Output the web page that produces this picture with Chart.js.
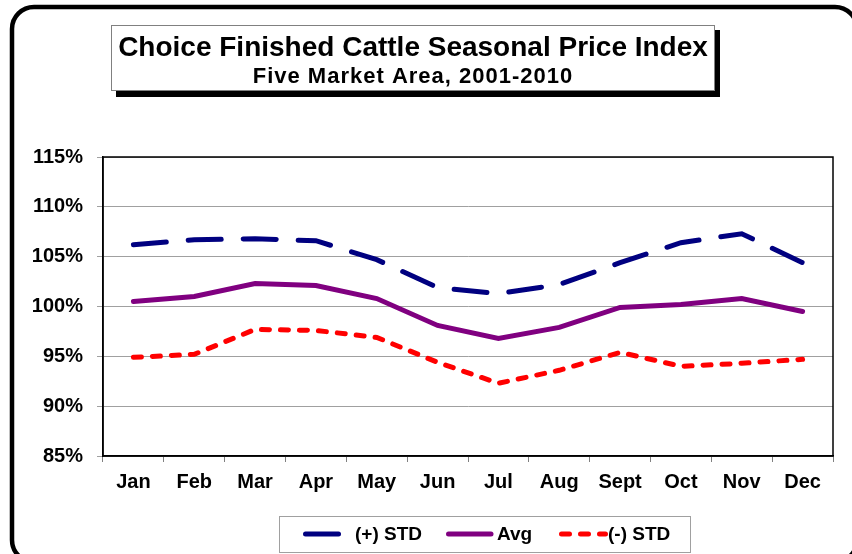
<!DOCTYPE html>
<html>
<head>
<meta charset="utf-8">
<title>Choice Finished Cattle Seasonal Price Index</title>
<script src="https://cdn.jsdelivr.net/npm/chart.js@4.4.1/dist/chart.umd.min.js"></script>
<style>
  html, body { margin: 0; padding: 0; background: #fff; }
  canvas { display: block; }
</style>
</head>
<body>
<canvas id="priceChart" width="852" height="554"></canvas>
<script>
const months = ['Jan', 'Feb', 'Mar', 'Apr', 'May', 'Jun', 'Jul', 'Aug', 'Sept', 'Oct', 'Nov', 'Dec'];
const plusStd = [106.2, 106.7, 106.8, 106.6, 104.7, 101.9, 101.3, 102.2, 104.4, 106.4, 107.3, 104.4];
const avgIndex = [100.5, 101.0, 102.3, 102.1, 100.8, 98.1, 96.8, 97.9, 99.9, 100.2, 100.8, 99.5];
const minusStd = [94.9, 95.2, 97.7, 97.6, 96.9, 94.4, 92.3, 93.6, 95.4, 94.0, 94.3, 94.7];
const yTicks = [85, 90, 95, 100, 105, 110, 115];

const FONT = '"Liberation Sans", Arial, sans-serif';

// frame, title box, plot border and legend drawn straight on the canvas
const decorations = {
  id: 'decorations',
  beforeDraw(chart) {
    const c = chart.ctx;
    c.save();
    c.fillStyle = '#fff';
    c.fillRect(0, 0, chart.width, chart.height);

    // outer rounded frame (runs off the right and bottom edges)
    c.lineWidth = 4.5;
    c.strokeStyle = '#000';
    c.beginPath();
    c.roundRect(12, 7, 845, 555, 22);
    c.stroke();

    // title box with drop shadow
    c.fillStyle = '#000';
    c.fillRect(116, 30, 604, 67);
    c.fillStyle = '#fff';
    c.fillRect(111, 25, 604, 66);
    c.lineWidth = 1;
    c.strokeStyle = '#808080';
    c.strokeRect(111.5, 25.5, 603, 65);

    c.fillStyle = '#000';
    c.textAlign = 'center';
    c.textBaseline = 'alphabetic';
    c.font = 'bold 28px ' + FONT;
    c.fillText('Choice Finished Cattle Seasonal Price Index', 413, 56);
    c.font = 'bold 22px ' + FONT;
    c.letterSpacing = '1px';
    c.fillText('Five Market Area, 2001-2010', 413, 83);
    c.restore();
  },
  afterDraw(chart) {
    const c = chart.ctx;
    const a = chart.chartArea;
    c.save();
    c.lineWidth = 1.5;
    c.strokeStyle = '#000';
    c.strokeRect(a.left, a.top, a.right - a.left, a.bottom - a.top);

    // legend
    c.lineWidth = 1;
    c.strokeStyle = '#a0a0a0';
    c.strokeRect(279.5, 516.5, 411, 36);
    const items = [
      { ds: 0, x0: 305.5, x1: 340.5, tx: 355 },
      { ds: 1, x0: 448.5, x1: 491, tx: 497 },
      { ds: 2, x0: 561.5, x1: 605.5, tx: 608 }
    ];
    c.font = 'bold 19px ' + FONT;
    c.textBaseline = 'middle';
    c.textAlign = 'left';
    items.forEach(it => {
      const ds = chart.data.datasets[it.ds];
      c.strokeStyle = ds.borderColor;
      c.lineWidth = ds.borderWidth;
      c.lineCap = 'round';
      c.setLineDash(ds.borderDash || []);
      c.beginPath();
      c.moveTo(it.x0, 534);
      c.lineTo(it.x1, 534);
      c.stroke();
      c.setLineDash([]);
      c.fillStyle = '#000';
      c.fillText(ds.label, it.tx, 535);
    });
    c.restore();
  }
};

new Chart(document.getElementById('priceChart'), {
  type: 'line',
  data: {
    labels: months,
    datasets: [
      {
        label: '(+) STD',
        data: plusStd,
        borderColor: '#000080',
        borderWidth: 5,
        borderDash: [33, 22],
        borderCapStyle: 'round',
        pointRadius: 0,
        tension: 0,
        fill: false
      },
      {
        label: 'Avg',
        data: avgIndex,
        borderColor: '#800080',
        borderWidth: 5,
        borderCapStyle: 'round',
        pointRadius: 0,
        tension: 0,
        fill: false
      },
      {
        label: '(-) STD',
        data: minusStd,
        borderColor: '#ff0000',
        borderWidth: 5,
        borderDash: [8, 11],
        borderCapStyle: 'round',
        pointRadius: 0,
        tension: 0,
        fill: false
      }
    ]
  },
  plugins: [decorations],
  options: {
    responsive: false,
    animation: false,
    devicePixelRatio: 1,
    layout: { padding: { left: 0, right: 19, top: 157, bottom: 58 } },
    plugins: {
      legend: { display: false },
      title: { display: false },
      tooltip: { enabled: false }
    },
    scales: {
      x: {
        offset: true,
        afterFit: s => { s.height = 40; },
        grid: {
          offset: true,
          drawOnChartArea: false,
          tickLength: 6,
          color: '#808080'
        },
        border: { color: '#000', width: 1.5 },
        ticks: {
          color: '#000',
          padding: 8,
          font: { family: FONT, size: 20, weight: 'bold' }
        }
      },
      y: {
        min: 85,
        max: 115,
        afterFit: s => { s.width = 103; },
        afterBuildTicks: s => { s.ticks = yTicks.map(v => ({ value: v })); },
        grid: { color: '#a0a0a0', tickLength: 6 },
        border: { color: '#000', width: 1.5 },
        ticks: {
          color: '#000',
          padding: 14,
          font: { family: FONT, size: 20, weight: 'bold' },
          callback: v => v + '%'
        }
      }
    }
  }
});
</script>
</body>
</html>
